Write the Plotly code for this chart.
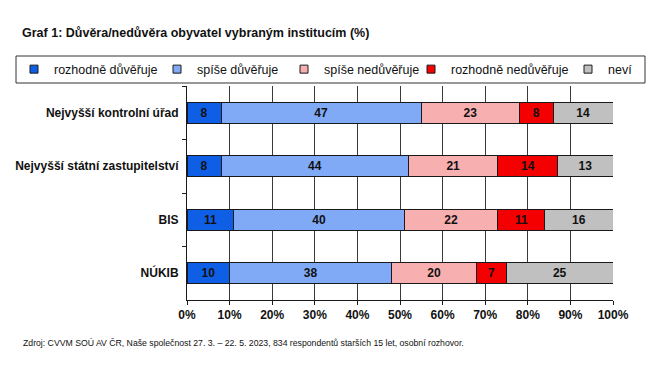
import plotly.graph_objects as go

categories = ["Nejvyšší kontrolní úřad", "Nejvyšší státní zastupitelství", "BIS", "NÚKIB"]
series_names = ["rozhodně důvěřuje", "spíše důvěřuje", "spíše nedůvěřuje", "rozhodně nedůvěřuje", "neví"]
rozhodne_duveruje = [8, 8, 11, 10]
spise_duveruje = [47, 44, 40, 38]
spise_neduveruje = [23, 21, 22, 20]
rozhodne_neduveruje = [8, 14, 11, 7]
nevi = [14, 13, 16, 25]
colors = ["#0F5FE6", "#80AAF6", "#F7AFAF", "#F50000", "#C0C0C0"]
tick_vals = [0, 10, 20, 30, 40, 50, 60, 70, 80, 90, 100]
tick_text = [f"{v}%" for v in tick_vals]

title_text = "Graf 1: Důvěra/nedůvěra obyvatel vybraným institucím (%)"
source_text = "Zdroj: CVVM SOÚ AV ČR, Naše společnost 27. 3. – 22. 5. 2023, 834 respondentů starších 15 let, osobní rozhovor."

W, H = 670, 377
L, R, T, B = 187, 57, 86, 77
pw, ph = W - L - R, H - T - B
FONT = "Liberation Sans, Arial, sans-serif"

def px_x(px):
    return (px - L) / pw

def px_y(py):
    return (H - B - py) / ph

# legend symbol positions (px) of the five legend entries
legend_sym_px = [42, 185, 312, 439, 596]

fig = go.Figure()
series_vals = [rozhodne_duveruje, spise_duveruje, spise_neduveruje, rozhodne_neduveruje, nevi]
for name, vals, col in zip(series_names, series_vals, colors):
    fig.add_trace(go.Bar(
        y=categories, x=vals, name=name, orientation="h", showlegend=False,
        marker=dict(color=col, line=dict(color="#1a1a1a", width=1)),
        text=[str(v) for v in vals], textposition="inside",
        insidetextanchor="middle", textangle=0, constraintext="none",
        textfont=dict(family=FONT, size=12, color="#111111", weight="bold"),
        hoverinfo="skip",
    ))

legend_layouts = {}
for i, (name, col) in enumerate(zip(series_names, colors)):
    lid = "legend" if i == 0 else f"legend{i + 1}"
    fig.add_trace(go.Scatter(
        x=[None], y=[None], mode="markers", name=name, legend=lid,
        marker=dict(symbol="square", size=8, color=col, line=dict(color="#1a1a1a", width=1)),
        hoverinfo="skip",
    ))
    legend_layouts[lid] = dict(
        orientation="h", x=px_x(legend_sym_px[i] - 28), xanchor="left",
        y=px_y(69.5), yanchor="middle", borderwidth=0, bgcolor="rgba(0,0,0,0)",
        font=dict(size=12.5, color="#111111", family=FONT),
        itemclick=False, itemdoubleclick=False,
    )

fig.update_layout(
    width=W, height=H,
    margin=dict(l=L, r=R, t=T, b=B, pad=0, autoexpand=False),
    barmode="stack", bargap=0.61,
    paper_bgcolor="white", plot_bgcolor="white",
    font=dict(family=FONT, color="#111111"),
    xaxis=dict(range=[0, 100], tickvals=tick_vals, ticktext=tick_text,
               showgrid=True, gridcolor="#3a3a3a", gridwidth=1,
               showline=True, linecolor="#1a1a1a", linewidth=1,
               ticks="outside", ticklen=4, tickcolor="#1a1a1a",
               tickfont=dict(size=12, color="#111111", family=FONT, weight="bold"),
               zeroline=False, fixedrange=True),
    yaxis=dict(autorange="reversed", showline=True, linecolor="#1a1a1a", linewidth=1,
               ticks="outside", ticklen=4, tickcolor="#1a1a1a", tickson="boundaries",
               showgrid=False, ticklabelstandoff=5,
               tickfont=dict(size=12, color="#111111", family=FONT, weight="bold"),
               fixedrange=True),
    shapes=[dict(type="rect", xref="paper", yref="paper",
                 x0=px_x(16), x1=px_x(645), y0=px_y(83), y1=px_y(56),
                 line=dict(color="#333333", width=1), fillcolor="rgba(0,0,0,0)")],
    annotations=[
        dict(text="<b>" + title_text + "</b>", xref="paper", yref="paper",
             x=px_x(20), xanchor="left", y=px_y(33), yanchor="middle", showarrow=False,
             font=dict(size=12.5, color="#111111", family=FONT)),
        dict(text=source_text, xref="paper", yref="paper",
             x=px_x(21), xanchor="left", y=px_y(343), yanchor="middle", showarrow=False,
             font=dict(size=8.7, color="#111111", family=FONT)),
    ],
    **legend_layouts,
)

fig.write_html("out.html", config={"displayModeBar": False, "staticPlot": True},
               post_script="document.body.style.margin='0';")
